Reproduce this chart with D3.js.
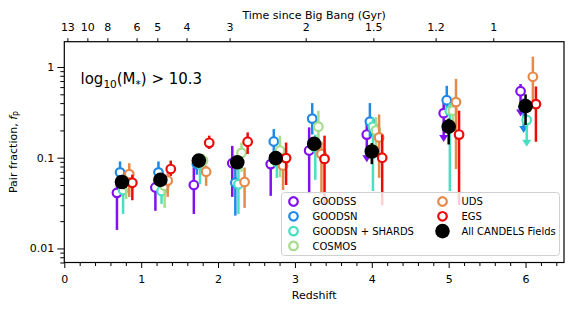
<!DOCTYPE html>
<html>
<head>
<meta charset="utf-8">
<script src="https://cdn.jsdelivr.net/npm/d3@7"></script>
<style>
  body { margin: 0; background: #fff; }
  svg { font-family: "DejaVu Sans", sans-serif; }
</style>
</head>
<body>
<svg id="chart" width="582" height="311"></svg>
<script>
// ----- Data -----
const binZ = [0.75, 1.25, 1.75, 2.25, 2.75, 3.25, 4.0, 5.0, 6.0];

const fieldNames = ["GOODSS", "GOODSN", "GOODSN + SHARDS", "COSMOS", "UDS", "EGS"];
const fieldOffset = [-0.065, -0.025, 0.015, 0.055, 0.095, 0.135];

// pair fraction per field (rows follow fieldNames), null = no point
const fp = [
  [0.041, 0.047, 0.050, 0.087, 0.085, 0.12, 0.18, 0.31, 0.54],
  [0.069, 0.069, 0.085, 0.053, 0.151, 0.27, 0.25, 0.43, 0.36],
  [0.044, 0.043, 0.085, 0.051, 0.090, 0.13, 0.22, 0.33, 0.26],
  [0.050, 0.049, 0.093, 0.113, 0.120, 0.22, 0.20, 0.33, null],
  [0.066, 0.056, 0.070, 0.054, 0.082, 0.11, 0.167, 0.41, 0.78],
  [0.053, 0.075, 0.146, 0.150, 0.099, 0.097, 0.10, 0.18, 0.39]
];
const fpLow = [
  [0.016, 0.026, 0.024, 0.037, 0.038, 0.040, 0.10, 0.167, 0.32],
  [0.050, 0.050, 0.065, 0.023, 0.110, 0.18, 0.17, 0.30, 0.21],
  [0.024, 0.031, 0.051, 0.024, 0.060, 0.057, 0.043, 0.043, 0.148],
  [0.035, 0.028, 0.070, 0.070, 0.061, 0.10, 0.12, 0.20, null],
  [0.037, 0.037, 0.049, 0.028, 0.044, 0.040, 0.060, 0.075, 0.42],
  [0.034, 0.063, 0.125, 0.110, 0.050, 0.030, 0.030, 0.030, 0.15]
];
const fpHigh = [
  [0.052, 0.060, 0.078, 0.135, 0.110, 0.216, 0.24, 0.40, 0.65],
  [0.091, 0.091, 0.110, 0.075, 0.207, 0.40, 0.40, 0.62, 0.45],
  [0.060, 0.058, 0.100, 0.080, 0.120, 0.18, 0.28, 0.40, 0.30],
  [0.065, 0.065, 0.110, 0.147, 0.175, 0.33, 0.28, 0.45, null],
  [0.087, 0.070, 0.082, 0.078, 0.110, 0.15, 0.30, 0.74, 1.30],
  [0.065, 0.093, 0.175, 0.190, 0.147, 0.175, 0.18, 0.33, 0.61]
];
// lower end drawn as a downward arrow (1 = arrow)
const lowerArrow = [
  [0, 0, 0, 0, 0, 0, 1, 1, 1],
  [0, 0, 0, 0, 0, 0, 0, 0, 1],
  [0, 0, 0, 0, 0, 0, 0, 0, 1],
  [0, 0, 0, 0, 0, 0, 0, 0, 0],
  [0, 0, 0, 0, 0, 0, 0, 0, 0],
  [0, 0, 0, 0, 0, 0, 0, 0, 0]
];

// all CANDELS fields combined
const allFp   = [0.054, 0.057, 0.093, 0.089, 0.099, 0.142, 0.117, 0.22, 0.37];
const allLow  = [0.048, 0.050, 0.080, 0.077, 0.085, 0.120, 0.085, 0.14, 0.23];
const allHigh = [0.060, 0.065, 0.105, 0.100, 0.115, 0.165, 0.145, 0.27, 0.50];

// top axis: time since Big Bang (Gyr) and the redshift where each tick sits
const ageLabels = ["13", "10", "8", "6", "5", "4", "3", "2", "1.5", "1.2", "1"];
const ageTickZ  = [0.04, 0.30, 0.56, 0.94, 1.21, 1.59, 2.15, 3.14, 4.02, 4.83, 5.58];

const fieldColors = ["#8010f0", "#1f8ae6", "#48e0c0", "#a6dc8c", "#e8894c", "#ee0a0a"];

// ----- Layout -----
const svg = d3.select("#chart");
const L = 64.3, R = 564, T = 41.7, B = 262.5;

const x = d3.scaleLinear().domain([0, 6.5]).range([L, R]);
const y = d3.scaleLog().domain([0.007, 1.9]).range([B, T]);

// ----- Axes -----
const styleAxis = g => {
  g.select(".domain").remove();
  g.selectAll("line").attr("stroke", "#000").attr("stroke-width", 1);
  g.selectAll("text").attr("fill", "#000").attr("font-size", 11)
    .attr("font-family", "DejaVu Sans, sans-serif");
};

svg.append("g").attr("transform", `translate(0,${B})`)
  .call(d3.axisBottom(x).tickValues(d3.range(0, 7)).tickSize(5.5).tickPadding(7).tickFormat(d3.format("d")))
  .call(styleAxis);
svg.append("g").attr("transform", `translate(0,${B})`)
  .call(d3.axisBottom(x).tickValues(d3.range(0, 6.5, 0.2).filter(v => Math.abs(v - Math.round(v)) > 1e-6))
    .tickSize(3.5).tickFormat(""))
  .call(styleAxis);

const majorY = [0.01, 0.1, 1];
const minorY = [];
[0.001, 0.01, 0.1].forEach(dec => d3.range(2, 10).forEach(m => {
  const v = dec * m;
  if (v >= 0.007 && v <= 1.9) minorY.push(v);
}));
svg.append("g").attr("transform", `translate(${L},0)`)
  .call(d3.axisLeft(y).tickValues(majorY).tickSize(7).tickPadding(3).tickFormat(d => String(d)))
  .call(styleAxis);
svg.append("g").attr("transform", `translate(${L},0)`)
  .call(d3.axisLeft(y).tickValues(minorY).tickSize(4).tickFormat(""))
  .call(styleAxis);

svg.append("g").attr("transform", `translate(0,${T})`)
  .call(d3.axisTop(x).tickValues(ageTickZ).tickSize(3.5).tickPadding(7)
    .tickFormat((d, i) => ageLabels[i]))
  .call(styleAxis);

// frame
svg.append("rect").attr("x", L).attr("y", T).attr("width", R - L).attr("height", B - T)
  .attr("fill", "none").attr("stroke", "#000").attr("stroke-width", 1.2);

// axis titles
svg.append("text").attr("x", (L + R) / 2).attr("y", 299).attr("text-anchor", "middle")
  .attr("font-size", 11).text("Redshift");
svg.append("text").attr("x", (L + R) / 2).attr("y", 19).attr("text-anchor", "middle")
  .attr("font-size", 11).text("Time since Big Bang (Gyr)");

const yl = svg.append("text").attr("transform", `translate(17,${(T + B) / 2}) rotate(-90)`)
  .attr("text-anchor", "middle").attr("font-size", 11);
yl.append("tspan").text("Pair fraction, ");
yl.append("tspan").attr("font-style", "italic").text("f");
yl.append("tspan").attr("font-size", 8).attr("dy", 3).text("P");

// annotation
const ann = svg.append("text").attr("x", 80.5).attr("y", 84).attr("font-size", 15);
ann.append("tspan").text("log");
ann.append("tspan").attr("font-size", 10.5).attr("dy", 3.5).text("10");
ann.append("tspan").attr("dy", -3.5).text("(M");
ann.append("tspan").attr("font-size", 10.5).attr("dy", 3.5).text("*");
ann.append("tspan").attr("dy", -3.5).text(") > 10.3");

// ----- Marks -----
const plot = svg.append("g");
const tri = "M-4.5,-2.5L4.5,-2.5L0,4.5Z";

fieldNames.forEach((name, k) => {
  const pts = binZ.map((z, i) => ({
    z: z + fieldOffset[k], f: fp[k][i], lo: fpLow[k][i], hi: fpHigh[k][i], arrow: lowerArrow[k][i]
  })).filter(d => d.f !== null);
  const g = plot.append("g");
  g.selectAll("line").data(pts).enter().append("line")
    .attr("x1", d => x(d.z)).attr("x2", d => x(d.z))
    .attr("y1", d => y(d.lo)).attr("y2", d => y(d.hi))
    .attr("stroke", fieldColors[k]).attr("stroke-width", 2.5);
  g.selectAll("path").data(pts.filter(d => d.arrow)).enter().append("path")
    .attr("d", tri).attr("transform", d => `translate(${x(d.z)},${y(d.lo)})`)
    .attr("fill", fieldColors[k]);
  g.selectAll("circle").data(pts).enter().append("circle")
    .attr("cx", d => x(d.z)).attr("cy", d => y(d.f)).attr("r", 4.3)
    .attr("fill", "#fff").attr("stroke", fieldColors[k]).attr("stroke-width", 2.2);
});

const allPts = binZ.map((z, i) => ({ z, f: allFp[i], lo: allLow[i], hi: allHigh[i] }));
const ga = plot.append("g");
ga.selectAll("line").data(allPts).enter().append("line")
  .attr("x1", d => x(d.z)).attr("x2", d => x(d.z))
  .attr("y1", d => y(d.lo)).attr("y2", d => y(d.hi))
  .attr("stroke", "#000").attr("stroke-width", 2.5);
ga.selectAll("circle").data(allPts).enter().append("circle")
  .attr("cx", d => x(d.z)).attr("cy", d => y(d.f)).attr("r", 7.3).attr("fill", "#000");

// ----- Legend -----
const lg = svg.append("g");
lg.append("rect").attr("x", 281.5).attr("y", 192.5).attr("width", 278).attr("height", 63)
  .attr("rx", 3).attr("fill", "#fff").attr("fill-opacity", 0.8)
  .attr("stroke", "#d0d0d0").attr("stroke-width", 1);

const legendItems = fieldNames.map((n, k) => ({ name: n, color: fieldColors[k], all: false }))
  .concat([{ name: "All CANDELS Fields", color: "#000", all: true }]);
const col = i => (i < 4 ? 0 : 1);
const row = i => (i < 4 ? i : i - 4);
const item = lg.selectAll("g.item").data(legendItems).enter().append("g")
  .attr("transform", (d, i) => `translate(${293.5 + col(i) * 149},${201.5 + row(i) * 14.8})`);
item.append("circle").attr("r", d => d.all ? 7.3 : 4.3)
  .attr("fill", d => d.all ? "#000" : "#fff")
  .attr("stroke", d => d.all ? "none" : d.color).attr("stroke-width", 2.2);
item.append("text").attr("x", 19).attr("y", 3.6).attr("font-size", 10).text(d => d.name);
</script>
</body>
</html>
